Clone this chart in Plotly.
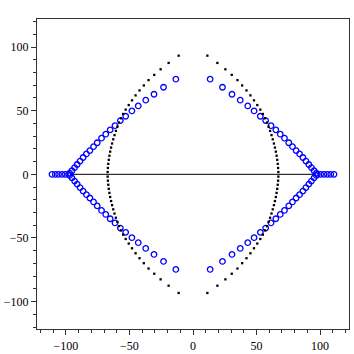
import plotly.graph_objects as go

# one quadrant of each point set (|x|, |y|); the picture is symmetric in both axes
black_x = [67.2, 67.0, 66.7, 66.3, 65.8, 65.2, 64.5, 63.7, 62.8, 61.8, 60.7, 59.5, 58.2,
           56.7, 55.0, 53.0, 50.6, 48.0, 45.2, 42.1, 38.7, 35.0, 30.5, 25.5, 19.2, 11.3]
black_y = [1.8, 5.0, 8.2, 11.4, 14.6, 17.8, 21.0, 24.2, 27.5, 30.8, 34.1, 37.4, 40.7,
           44.0, 47.4, 50.8, 54.4, 58.1, 62.0, 65.9, 69.8, 74.0, 78.1, 82.5, 87.5, 93.2]

blue_x = [97.1, 95.3, 93.2, 91.2, 88.9, 86.5, 83.9, 81.2, 78.3, 75.4, 72.0,
          68.7, 65.2, 61.4, 57.2, 53.0, 48.1, 43.1, 37.2, 30.7, 23.2, 13.5]
blue_y = [0.9, 2.8, 5.3, 7.7, 10.4, 13.2, 16.0, 18.6, 21.7, 24.8, 28.4,
          31.5, 34.9, 38.2, 42.2, 45.6, 49.8, 53.7, 58.2, 62.9, 68.4, 74.7]

real_x = [97.9, 100.5, 103.1, 105.8, 108.4, 111.0]

axis_line_x = [-97, 97]
axis_line_y = [0, 0]

tick_vals = [-100, -50, 0, 50, 100]
tick_text = ["\u2212100", "\u221250", "0", "50", "100"]


def mirror(xs, ys):
    ox, oy = [], []
    for sx in (-1, 1):
        for sy in (-1, 1):
            ox += [sx * v for v in xs]
            oy += [sy * v for v in ys]
    return ox, oy


fig = go.Figure()

fig.add_trace(go.Scatter(x=axis_line_x, y=axis_line_y, mode="lines",
                         line=dict(color="black", width=1)))

bx, by = mirror(blue_x, blue_y)
rx = [-v for v in real_x] + real_x
bx += rx
by += [0] * len(rx)
fig.add_trace(go.Scatter(x=bx, y=by, mode="markers",
                         marker=dict(symbol="circle-open", size=5.5, color="blue",
                                     line=dict(width=1.3, color="blue"))))

kx, ky = mirror(black_x, black_y)
fig.add_trace(go.Scatter(x=kx, y=ky, mode="markers",
                         marker=dict(symbol="square", size=2.3, color="black",
                                     line=dict(width=0))))

axis_common = dict(
    showgrid=False, zeroline=False, showline=True, linecolor="#333", linewidth=1.2,
    mirror=True, ticks="outside", ticklen=5, tickcolor="#333", automargin=False,
    tickvals=tick_vals, ticktext=tick_text,
    minor=dict(dtick=10, ticks="outside", ticklen=3, tickcolor="#333"),
    tickfont=dict(family="Liberation Serif", size=12, color="black"),
)

fig.update_xaxes(range=[-122.8, 122.8], **axis_common)
fig.update_yaxes(range=[-121.5, 122], **axis_common)

fig.update_layout(
    width=354, height=354,
    margin=dict(l=37, r=5, t=19, b=25, autoexpand=False),
    plot_bgcolor="white", paper_bgcolor="white",
    showlegend=False,
)

# page has a default 8px body margin; drop it so the figure fills the window
fig.write_html("out.html", config={"displayModeBar": False},
               post_script="document.body.style.margin='0';")
